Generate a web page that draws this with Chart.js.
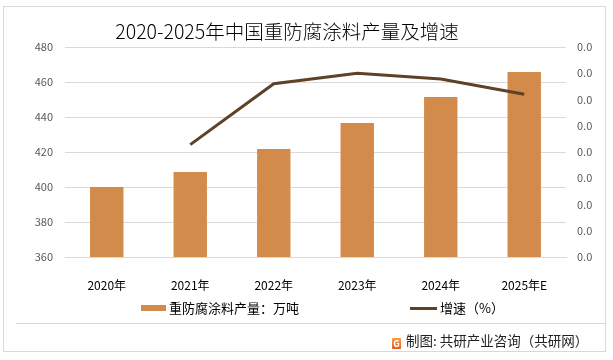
<!DOCTYPE html>
<html>
<head>
<meta charset="utf-8">
<script src="https://cdn.jsdelivr.net/npm/chart.js@4/dist/chart.umd.min.js"></script>
<style>
  html, body { margin: 0; padding: 0; background: #fff; }
  body { width: 613px; height: 360px; position: relative; overflow: hidden; font-family: "Noto Sans CJK SC", "Noto Sans", sans-serif; }
  #frame { position: absolute; left: 3px; top: 6px; width: 603px; height: 346px; border: 1px solid #d9d9d9; box-sizing: border-box; }
  #sep { position: absolute; left: 16px; top: 323px; width: 590px; height: 0; border-top: 1px solid #d9d9d9; }
  #chart { position: absolute; left: 0; top: 0; }
  #title { position: absolute; left: 0; width: 574px; top: 17px; text-align: center; font-size: 19.5px; font-weight: 300; color: #000; line-height: 28px; white-space: nowrap; }
  .lg { position: absolute; top: 299px; height: 17px; line-height: 17px; font-size: 13px; color: #000; white-space: nowrap; }
  .lg i { position: absolute; left: 0; display: block; }
  #source { position: absolute; left: 392px; top: 331px; font-size: 13.5px; line-height: 19px; color: #222; white-space: nowrap; }
  #source b { display: inline-block; width: 9px; height: 11px; margin-right: 5px; vertical-align: -1px; background: linear-gradient(#f7a33b, #e4572a); border-radius: 1px; color: #fff; font-size: 9px; line-height: 11px; text-align: center; font-weight: bold; }
</style>
</head>
<body>
<div id="frame"></div>
<div id="sep"></div>
<canvas id="chart" width="613" height="360"></canvas>
<div id="title">2020-2025年中国重防腐涂料产量及增速</div>
<div id="legend"></div>
<div id="source"><b>G</b>制图: 共研产业咨询（共研网）</div>
<script>
const years = ['2020年', '2021年', '2022年', '2023年', '2024年', '2025年E'];
// 产量 (万吨)
const output = [400, 408.6, 421.7, 436.6, 451.4, 465.7];
// 增速, 2020 has no value
const growth = [null, 0.0214, 0.033, 0.035, 0.0339, 0.031];

const barColor = '#d38b4c';
const lineColor = '#5f4128';
const gridColor = '#d9d9d9';
const fontFamily = '"Noto Sans CJK SC", "Noto Sans", sans-serif';

const ctx = document.getElementById('chart');

const chart = new Chart(ctx, {
  data: {
    labels: years,
    datasets: [
      {
        type: 'line',
        label: '增速（%）',
        data: growth,
        yAxisID: 'y1',
        borderColor: lineColor,
        backgroundColor: lineColor,
        borderWidth: 3,
        pointRadius: 0,
        tension: 0,
        spanGaps: false,
        order: 0
      },
      {
        type: 'bar',
        label: '重防腐涂料产量：万吨',
        data: output,
        yAxisID: 'y',
        backgroundColor: barColor,
        borderWidth: 0,
        barPercentage: 0.5,
        categoryPercentage: 0.8,
        order: 1
      }
    ]
  },
  options: {
    responsive: false,
    animation: false,
    layout: { padding: { left: 10, right: 7, top: 47, bottom: 63 } },
    plugins: {
      legend: { display: false },
      tooltip: { enabled: false }
    },
    scales: {
      x: {
        grid: { display: false },
        border: { display: true, color: gridColor },
        ticks: { color: '#000', font: { family: fontFamily, size: 12 }, padding: 13, maxRotation: 0 },
        afterFit(scale) { scale.height = 40; }
      },
      y: {
        position: 'left',
        min: 360,
        max: 480,
        ticks: { stepSize: 20, color: '#595959', font: { family: fontFamily, size: 11 }, padding: 12 },
        grid: { color: gridColor, drawTicks: false },
        border: { display: false },
        afterFit(scale) { scale.width = 55; }
      },
      y1: {
        position: 'right',
        min: 0,
        max: 0.04,
        ticks: {
          stepSize: 0.005,
          color: '#595959',
          font: { family: fontFamily, size: 11 },
          padding: 11,
          callback: (v) => v.toFixed(1)
        },
        grid: { drawOnChartArea: false, drawTicks: false },
        border: { display: false },
        afterFit(scale) { scale.width = 40; }
      }
    }
  }
});

// legend built from the datasets
const legendBox = document.getElementById('legend');
const legendPos = [
  { left: 141, sw: 25, sh: 6 },
  { left: 410, sw: 27, sh: 3 }
];
[chart.data.datasets[1], chart.data.datasets[0]].forEach((ds, i) => {
  const p = legendPos[i];
  const item = document.createElement('div');
  item.className = 'lg';
  item.style.left = p.left + 'px';
  item.style.paddingLeft = (p.sw + 3) + 'px';
  const sw = document.createElement('i');
  sw.style.width = p.sw + 'px';
  sw.style.height = p.sh + 'px';
  sw.style.top = (9 - p.sh / 2) + 'px';
  sw.style.background = ds.type === 'bar' ? ds.backgroundColor : ds.borderColor;
  item.appendChild(sw);
  item.appendChild(document.createTextNode(ds.label));
  legendBox.appendChild(item);
});
</script>
</body>
</html>
